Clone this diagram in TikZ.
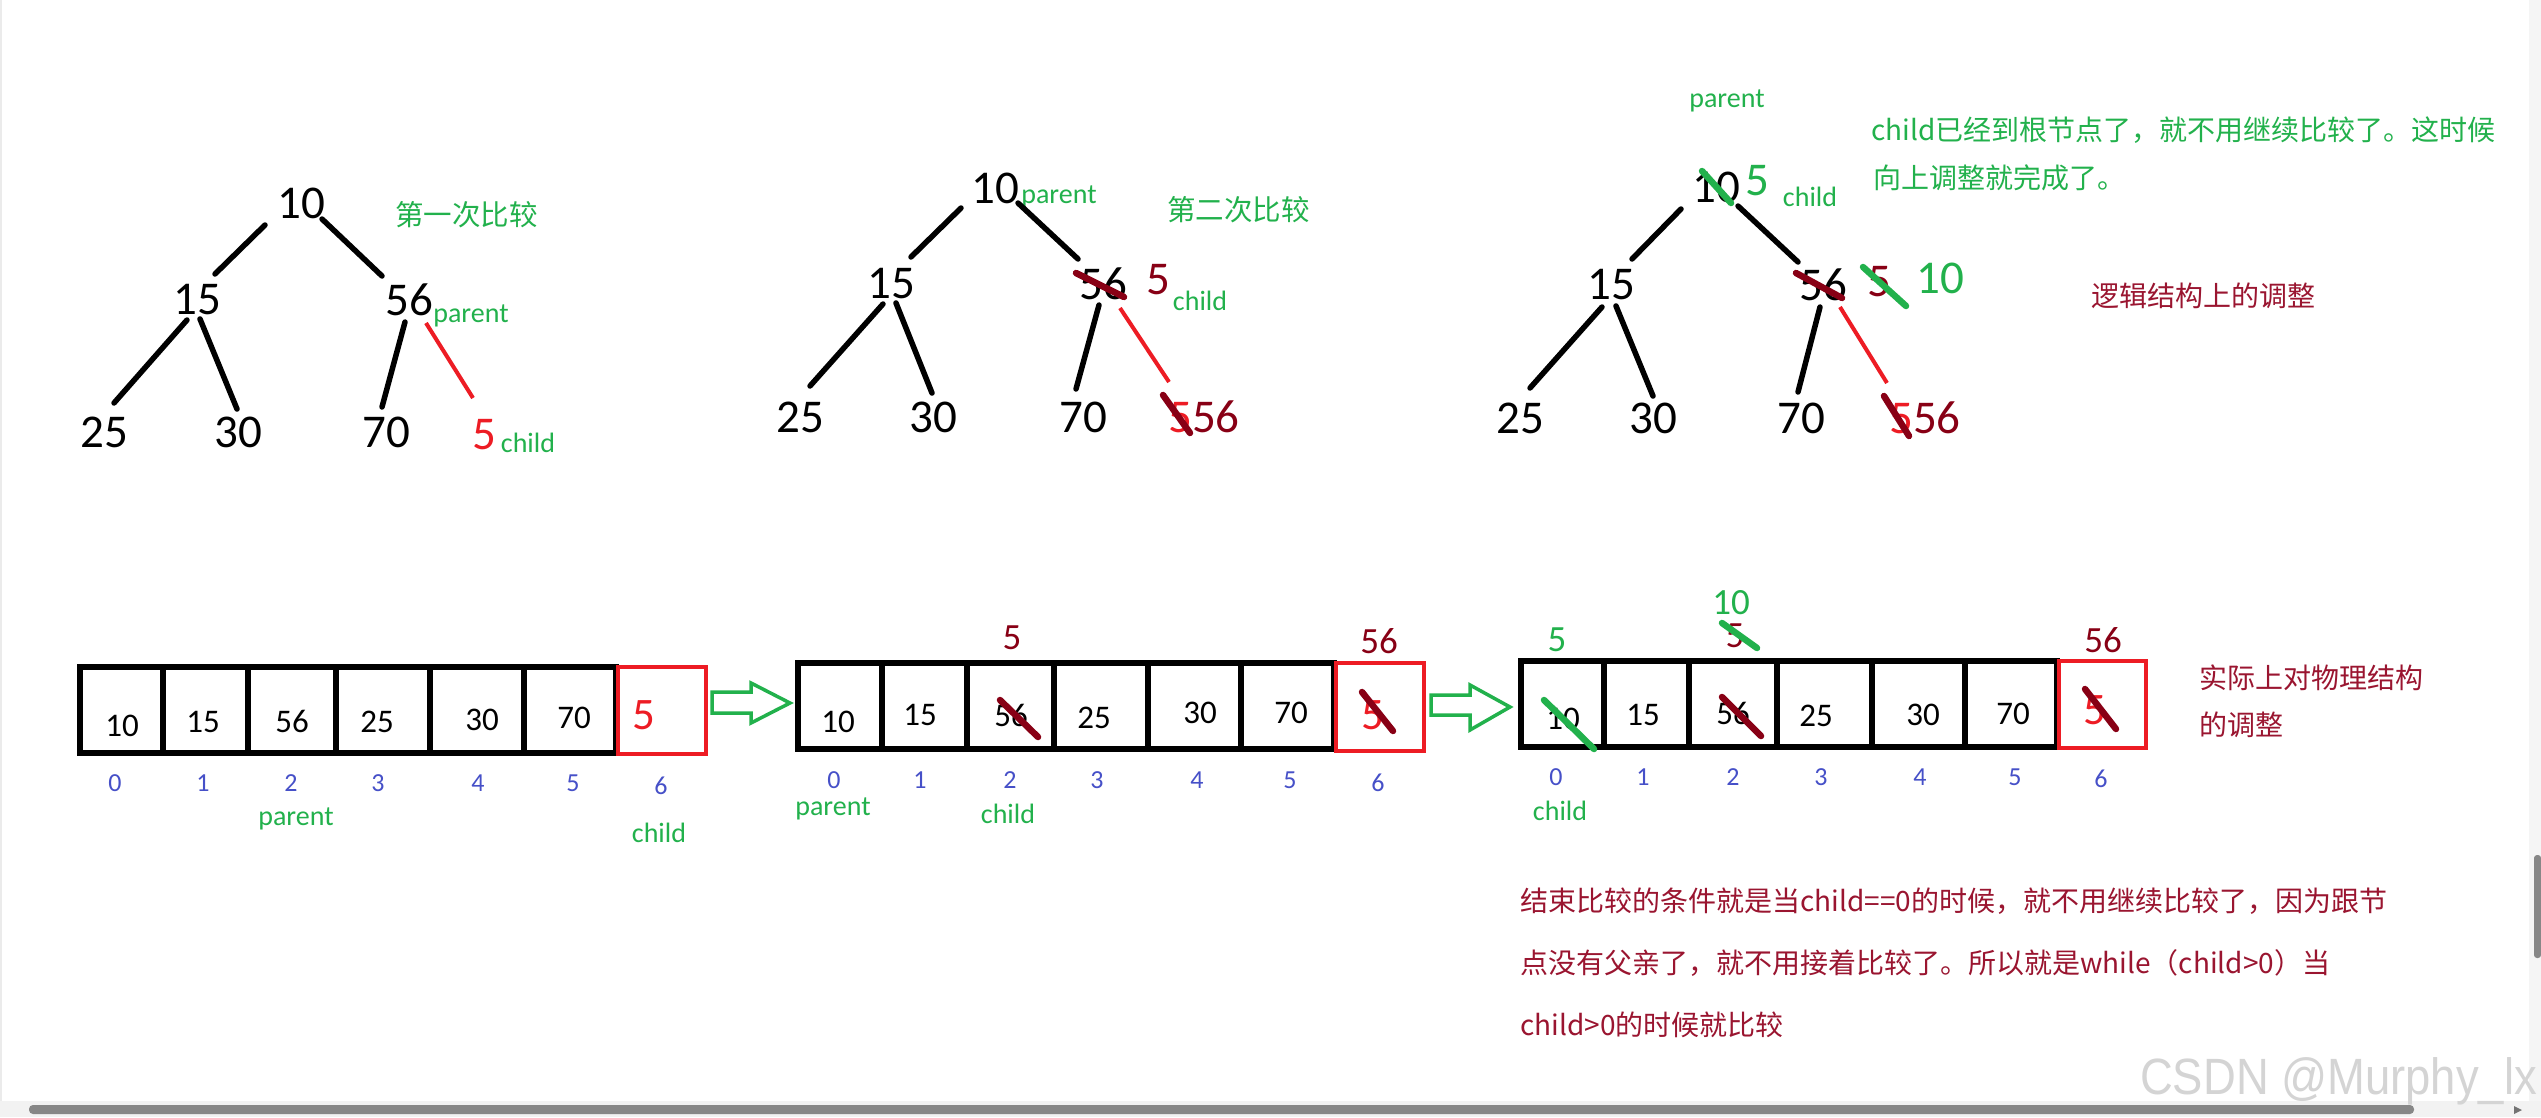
\documentclass[tikz,border=0pt]{standalone}
\usepackage{fontspec}
\setmainfont{Carlito}
\newfontfamily\cjk{Noto Sans CJK SC}
\newfontfamily\wmfont[FakeStretch=0.89]{Liberation Sans}
\definecolor{pgreen}{HTML}{22B14C}
\definecolor{pred}{HTML}{ED1C24}
\definecolor{dkred}{HTML}{880015}
\definecolor{tred}{HTML}{9A1530}
\definecolor{pblue}{HTML}{4650C8}
\begin{document}
\begin{tikzpicture}[x=1pt,y=-1pt,
  num/.style={inner sep=0pt,font=\fontsize{47}{47}\selectfont},
  cnum/.style={inner sep=0pt,font=\fontsize{33}{33}\selectfont},
  rnum/.style={inner sep=0pt,text=pred,font=\fontsize{45}{45}\selectfont},
  topnum/.style={inner sep=0pt,font=\fontsize{37}{37}\selectfont},
  idx/.style={inner sep=0pt,text=pblue,font=\fontsize{26}{26}\selectfont},
  lbl/.style={inner sep=0pt,anchor=base,text=pgreen,font=\fontsize{28}{28}\selectfont},
  ctext/.style={inner sep=0pt,anchor=base west,font=\cjk\fontsize{28}{28}\selectfont},
  tl/.style={line width=5.5pt,line cap=round},
  rl/.style={line width=4pt,draw=pred},
  dstrike/.style={line width=6.5pt,line cap=round,draw=dkred},
  gstrike/.style={line width=6.5pt,line cap=round,draw=pgreen},
  cell/.style={draw,line width=5.5pt,minimum height=86pt,inner sep=0pt},
  rcell/.style={draw=pred,line width=4.5pt,inner sep=0pt},
  harrow/.style={draw=pgreen,line width=3.5pt,line join=miter},
]
\useasboundingbox (0,0) rectangle (2541,1117);
\fill[white] (0,0) rectangle (2541,1117);
% window chrome
\fill[black!8] (0,0) rectangle (2,1101);
\fill[black!4] (2529,0) rectangle (2541,1101);
\fill[black!47,rounded corners=3pt] (2534,855) rectangle (2541,958);
\fill[black!5] (0,1101) rectangle (2541,1117);
\fill[black!47,rounded corners=4pt] (29,1105) rectangle (2414,1114);
\fill[black!55] (2514,1106) -- (2522,1110) -- (2514,1114) -- cycle;

% ---------------- tree 1 ----------------
\node[num] (a10) at (301.5,203) {10};
\node[num] (a15) at (197,300) {15};
\node[num] (a56) at (409,300) {56};
\node[num] (a25) at (104,432) {25};
\node[num] (a30) at (238,432) {30};
\node[num] (a70) at (386,432) {70};
\node[num,text=pred] (a5) at (484,435) {5};
\node[lbl] (aparent) at (471,322) {parent};
\node[lbl] (achild) at (528,452) {child};
\node[ctext,text=pgreen,font=\cjk\fontsize{28.5}{28.5}\selectfont] (atitle) at (395,225) {第一次比较};
\draw[tl] ([shift={(-36.5,22)}]a10.center) -- ([shift={(18,-26)}]a15.center);
\draw[tl] ([shift={(20.5,16)}]a10.center) -- ([shift={(-27,-24)}]a56.center);
\draw[tl] ([shift={(-10,20)}]a15.center) -- ([shift={(10,-29)}]a25.center);
\draw[tl] ([shift={(3,19)}]a15.center) -- ([shift={(-1,-23)}]a30.center);
\draw[tl] ([shift={(-4,22)}]a56.center) -- ([shift={(-4,-25)}]a70.center);
\draw[rl] ([shift={(17,23)}]a56.center) -- ([shift={(-11,-37)}]a5.center);

% ---------------- tree 2 ----------------
\node[num] (b10) at (995.5,188) {10};
\node[num] (b15) at (891,284) {15};
\node[num] (b56) at (1103,284) {56};
\node[num,text=dkred] (b5) at (1158,280) {5};
\node[num] (b25) at (800,417) {25};
\node[num] (b30) at (933,417) {30};
\node[num] (b70) at (1083,417) {70};
\node[num] (b556) at (1204,417) {\textcolor{pred}{5}\textcolor{dkred}{56}};
\node[lbl] (bparent) at (1059,203) {parent};
\node[lbl] (bchild) at (1200,310) {child};
\node[ctext,text=pgreen,font=\cjk\fontsize{28.5}{28.5}\selectfont] (btitle) at (1167,220) {第二次比较};
\draw[tl] ([shift={(-34.5,20)}]b10.center) -- ([shift={(20,-27)}]b15.center);
\draw[tl] ([shift={(22.5,15)}]b10.center) -- ([shift={(-25,-25)}]b56.center);
\draw[tl] ([shift={(-8,20)}]b15.center) -- ([shift={(10,-31)}]b25.center);
\draw[tl] ([shift={(5,19)}]b15.center) -- ([shift={(-1,-24)}]b30.center);
\draw[tl] ([shift={(-4,21)}]b56.center) -- ([shift={(-7,-28)}]b70.center);
\draw[rl] ([shift={(17,24)}]b56.center) -- ([shift={(-35,-35)}]b556.center);
\draw[dstrike] (1076,273) -- (1124,297);
\draw[dstrike] (1163,395) -- (1190,433);

% ---------------- tree 3 ----------------
\node[num] (c10) at (1716,187) {10};
\node[num,text=pgreen] (c5top) at (1757,181) {5};
\node[num] (c15) at (1611,285) {15};
\node[num] (c56) at (1823,285) {56};
\node[num,text=dkred] (c5) at (1879,282) {5};
\node[num,text=pgreen] (c10g) at (1940,278) {10};
\node[num] (c25) at (1520,418) {25};
\node[num] (c30) at (1653,418) {30};
\node[num] (c70) at (1801,418) {70};
\node[num] (c556) at (1925,418) {\textcolor{pred}{5}\textcolor{dkred}{56}};
\node[lbl] (cparent) at (1727,107) {parent};
\node[lbl] (cchild) at (1810,206) {child};
\node[ctext,text=pgreen] (cnote1) at (1871,140) {child已经到根节点了，就不用继续比较了。这时候};
\node[ctext,text=pgreen] (cnote2) at (1873,188) {向上调整就完成了。};
\node[ctext,text=tred] (cnote3) at (2091,306) {逻辑结构上的调整};
\draw[tl] ([shift={(-35,22)}]c10.center) -- ([shift={(21,-26)}]c15.center);
\draw[tl] ([shift={(22,19)}]c10.center) -- ([shift={(-25,-23)}]c56.center);
\draw[tl] ([shift={(-9,22)}]c15.center) -- ([shift={(10,-30)}]c25.center);
\draw[tl] ([shift={(5,21)}]c15.center) -- ([shift={(0,-22)}]c30.center);
\draw[tl] ([shift={(-3,22)}]c56.center) -- ([shift={(-3,-26)}]c70.center);
\draw[rl] ([shift={(17,22)}]c56.center) -- ([shift={(-38,-35)}]c556.center);
\draw[gstrike] (1702,171) -- (1731,203);
\draw[dstrike] (1796,273) -- (1842,298);
\draw[gstrike] (1863,267) -- (1906,306);
\draw[dstrike] (1884,396) -- (1909,436);

% ---------------- array 1 ----------------
\node[cell,minimum width=83pt] (p0) at (121.5,710) {};
\node[cell,minimum width=85pt] (p1) at (205.5,710) {};
\node[cell,minimum width=88pt] (p2) at (292,710) {};
\node[cell,minimum width=94pt] (p3) at (383,710) {};
\node[cell,minimum width=94pt] (p4) at (477,710) {};
\node[cell,minimum width=92pt] (p5) at (570,710) {};
\node[rcell,minimum width=88pt,minimum height=87pt] (p6) at (662,710.5) {};
\node[cnum] (pv0) at (122,726) {10};
\node[cnum] (pv1) at (203,722) {15};
\node[cnum] (pv2) at (292,721) {56};
\node[cnum] (pv3) at (377,722) {25};
\node[cnum] (pv4) at (482,720) {30};
\node[cnum] (pv5) at (574,718) {70};
\node[rnum] (pv6) at (644,715) {5};
\node[idx] (pi0) at (115,783) {0};
\node[idx] (pi1) at (203,783) {1};
\node[idx] (pi2) at (291,783) {2};
\node[idx] (pi3) at (378,783) {3};
\node[idx] (pi4) at (478,783) {4};
\node[idx] (pi5) at (573,783) {5};
\node[idx] (pi6) at (661,786) {6};
\node[lbl] (pparent) at (296,825) {parent};
\node[lbl] (pchild) at (659,842) {child};

% hollow arrow 1
\draw[harrow] (712,692) -- (751,692) -- (751,683) -- (790,703) -- (751,723) -- (751,713) -- (712,713) -- cycle;

% ---------------- array 2 ----------------
\node[cell,minimum width=84pt] (q0) at (840,706) {};
\node[cell,minimum width=85pt] (q1) at (924.5,706) {};
\node[cell,minimum width=87pt] (q2) at (1010.5,706) {};
\node[cell,minimum width=94pt] (q3) at (1101,706) {};
\node[cell,minimum width=93pt] (q4) at (1194.5,706) {};
\node[cell,minimum width=93pt] (q5) at (1287.5,706) {};
\node[rcell,minimum width=88pt,minimum height=88pt] (q6) at (1380,707) {};
\node[cnum] (qv0) at (838,722) {10};
\node[cnum] (qv1) at (920,715) {15};
\node[cnum] (qv2) at (1011,715) {56};
\node[cnum] (qv3) at (1094,718) {25};
\node[cnum] (qv4) at (1200,713) {30};
\node[cnum] (qv5) at (1291,713) {70};
\node[rnum] (qv6) at (1373,715) {5};
\node[topnum,text=dkred] (qt2) at (1012,638) {5};
\node[topnum,text=dkred] (qt6) at (1379,641) {56};
\draw[dstrike] (1000,700) -- (1038,737);
\draw[dstrike] (1362,692) -- (1393,731);
\node[idx] (qi0) at (834,780) {0};
\node[idx] (qi1) at (920,780) {1};
\node[idx] (qi2) at (1010,780) {2};
\node[idx] (qi3) at (1097,780) {3};
\node[idx] (qi4) at (1197,780) {4};
\node[idx] (qi5) at (1290,780) {5};
\node[idx] (qi6) at (1378,783) {6};
\node[lbl] (qparent) at (833,815) {parent};
\node[lbl] (qchild) at (1008,823) {child};

% hollow arrow 2
\draw[harrow] (1431,695) -- (1470,695) -- (1470,685) -- (1510,707) -- (1470,730) -- (1470,715) -- (1431,715) -- cycle;

% ---------------- array 3 ----------------
\node[cell,minimum width=83pt] (r0) at (1562.5,704) {};
\node[cell,minimum width=85pt] (r1) at (1646.5,704) {};
\node[cell,minimum width=88pt] (r2) at (1733,704) {};
\node[cell,minimum width=95pt] (r3) at (1824.5,704) {};
\node[cell,minimum width=93pt] (r4) at (1918.5,704) {};
\node[cell,minimum width=92pt] (r5) at (2011,704) {};
\node[rcell,minimum width=87pt,minimum height=87pt] (r6) at (2102.5,704.5) {};
\node[cnum] (rv0) at (1563,719) {10};
\node[cnum] (rv1) at (1643,715) {15};
\node[cnum] (rv2) at (1733,713) {56};
\node[cnum] (rv3) at (1816,716) {25};
\node[cnum] (rv4) at (1923,715) {30};
\node[cnum] (rv5) at (2013,714) {70};
\node[rnum] (rv6) at (2095,710) {5};
\node[topnum,text=pgreen] (rt0) at (1557,640) {5};
\node[topnum,text=pgreen] (rt2g) at (1731,603) {10};
\node[topnum,text=dkred] (rt2) at (1735,636) {5};
\node[topnum,text=dkred] (rt6) at (2103,640) {56};
\draw[gstrike] (1544,700) -- (1594,749);
\draw[dstrike] (1722,697) -- (1761,736);
\draw[dstrike] (2085,689) -- (2116,729);
\draw[gstrike] (1722,623) -- (1757,648);
\node[idx] (ri0) at (1556,777) {0};
\node[idx] (ri1) at (1643,777) {1};
\node[idx] (ri2) at (1733,777) {2};
\node[idx] (ri3) at (1821,777) {3};
\node[idx] (ri4) at (1920,777) {4};
\node[idx] (ri5) at (2015,777) {5};
\node[idx] (ri6) at (2101,779) {6};
\node[lbl] (rchild) at (1560,820) {child};
\node[ctext,text=tred] (rnote1) at (2199,688) {实际上对物理结构};
\node[ctext,text=tred] (rnote2) at (2199,735) {的调整};

% ---------------- bottom note ----------------
\node[ctext,text=tred] (end1) at (1520,911) {结束比较的条件就是当child==0的时候，就不用继续比较了，因为跟节};
\node[ctext,text=tred] (end2) at (1520,973) {点没有父亲了，就不用接着比较了。所以就是while（child>0）当};
\node[ctext,text=tred] (end3) at (1520,1035) {child>0的时候就比较};

% watermark
\node[inner sep=0pt,anchor=base west,text=black!17,font=\wmfont\fontsize{51}{51}\selectfont] (wm) at (2140,1094) {CSDN @Murphy\_lx};
\end{tikzpicture}
\end{document}
